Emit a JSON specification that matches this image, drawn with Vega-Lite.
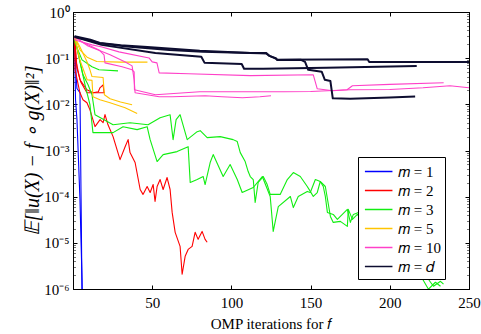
{
  "$schema": "https://vega.github.io/schema/vega-lite/v6.json",
  "width": 396,
  "height": 277,
  "autosize": "none",
  "padding": {"left": 73, "right": 12, "top": 12, "bottom": 45},
  "background": "white",
  "config": {
    "font": "Liberation Serif",
    "view": {"stroke": "black", "strokeWidth": 1},
    "axis": {"labelFont": "Liberation Serif", "titleFont": "Liberation Serif", "labelFontSize": 15, "titleFontSize": 15, "titleFontWeight": "normal", "labelColor": "black", "titleColor": "black", "domainColor": "black", "tickColor": "black", "grid": false, "labelFlush": false},
    "legend": {"labelFont": "Liberation Serif"}
  },
  "data": {"values": [
    {"m":"𝑚 = 1","r":"b1","x":1,"y":0.29},{"m":"𝑚 = 1","r":"b1","x":2,"y":0.04},{"m":"𝑚 = 1","r":"b1","x":2.5,"y":0.022},{"m":"𝑚 = 1","r":"b1","x":4.4,"y":0.0178},{"m":"𝑚 = 1","r":"b1","x":5.1,"y":0.000087},{"m":"𝑚 = 1","r":"b1","x":6,"y":0.00000006},
    {"m":"𝑚 = 1","r":"b2","x":1,"y":0.29},{"m":"𝑚 = 1","r":"b2","x":1.3,"y":0.05},{"m":"𝑚 = 1","r":"b2","x":1.6,"y":0.0126},{"m":"𝑚 = 1","r":"b2","x":2.5,"y":0.0047},{"m":"𝑚 = 1","r":"b2","x":4.4,"y":0.000087},{"m":"𝑚 = 1","r":"b2","x":5.7,"y":0.0000016},{"m":"𝑚 = 1","r":"b2","x":6,"y":0.0000004},
    {"m":"𝑚 = 2","r":"r1","x":1,"y":0.29},{"m":"𝑚 = 2","r":"r1","x":2,"y":0.083},{"m":"𝑚 = 2","r":"r1","x":4.4,"y":0.034},{"m":"𝑚 = 2","r":"r1","x":8.8,"y":0.0207},{"m":"𝑚 = 2","r":"r1","x":12.6,"y":0.0178},{"m":"𝑚 = 2","r":"r1","x":16,"y":0.0187},{"m":"𝑚 = 2","r":"r1","x":17,"y":0.0228},{"m":"𝑚 = 2","r":"r1","x":19,"y":0.0264},{"m":"𝑚 = 2","r":"r1","x":19.6,"y":0.0178},
    {"m":"𝑚 = 2","r":"r3","x":1,"y":0.29},{"m":"𝑚 = 2","r":"r3","x":2.5,"y":0.06},{"m":"𝑚 = 2","r":"r3","x":5,"y":0.03},{"m":"𝑚 = 2","r":"r3","x":8.8,"y":0.0178},{"m":"𝑚 = 2","r":"r3","x":20.2,"y":0.0178},
    {"m":"𝑚 = 2","r":"r2","x":1,"y":0.29},{"m":"𝑚 = 2","r":"r2","x":1.3,"y":0.056},{"m":"𝑚 = 2","r":"r2","x":4.4,"y":0.0178},{"m":"𝑚 = 2","r":"r2","x":6.3,"y":0.0126},{"m":"𝑚 = 2","r":"r2","x":8.8,"y":0.0108},{"m":"𝑚 = 2","r":"r2","x":10.7,"y":0.0076},{"m":"𝑚 = 2","r":"r2","x":13.9,"y":0.0033},{"m":"𝑚 = 2","r":"r2","x":17.1,"y":0.00465},{"m":"𝑚 = 2","r":"r2","x":19,"y":0.004},{"m":"𝑚 = 2","r":"r2","x":20.2,"y":0.006},{"m":"𝑚 = 2","r":"r2","x":22.1,"y":0.0036},{"m":"𝑚 = 2","r":"r2","x":25.3,"y":0.002},{"m":"𝑚 = 2","r":"r2","x":29.7,"y":0.000635},{"m":"𝑚 = 2","r":"r2","x":32.9,"y":0.00121},{"m":"𝑚 = 2","r":"r2","x":34.8,"y":0.00172},{"m":"𝑚 = 2","r":"r2","x":36,"y":0.0009},{"m":"𝑚 = 2","r":"r2","x":39.2,"y":0.00055},{"m":"𝑚 = 2","r":"r2","x":42.4,"y":0.000143},{"m":"𝑚 = 2","r":"r2","x":44.2,"y":0.000112},{"m":"𝑚 = 2","r":"r2","x":46.8,"y":0.000166},{"m":"𝑚 = 2","r":"r2","x":48.7,"y":0.000123},{"m":"𝑚 = 2","r":"r2","x":50.6,"y":0.000183},{"m":"𝑚 = 2","r":"r2","x":51.8,"y":0.000079},{"m":"𝑚 = 2","r":"r2","x":53.1,"y":0.000166},{"m":"𝑚 = 2","r":"r2","x":55,"y":0.000235},{"m":"𝑚 = 2","r":"r2","x":56.9,"y":0.000143},{"m":"𝑚 = 2","r":"r2","x":59.4,"y":0.00026},{"m":"𝑚 = 2","r":"r2","x":61.3,"y":0.000143},{"m":"𝑚 = 2","r":"r2","x":62.6,"y":0.0000456},{"m":"𝑚 = 2","r":"r2","x":64.5,"y":0.0000169},{"m":"𝑚 = 2","r":"r2","x":67.6,"y":0.0000084},{"m":"𝑚 = 2","r":"r2","x":68.9,"y":0.00000209},{"m":"𝑚 = 2","r":"r2","x":70.8,"y":0.0000051},{"m":"𝑚 = 2","r":"r2","x":72.7,"y":0.0000072},{"m":"𝑚 = 2","r":"r2","x":75.2,"y":0.0000084},{"m":"𝑚 = 2","r":"r2","x":77.1,"y":0.0000169},{"m":"𝑚 = 2","r":"r2","x":79,"y":0.0000119},{"m":"𝑚 = 2","r":"r2","x":81.5,"y":0.0000177},{"m":"𝑚 = 2","r":"r2","x":83.4,"y":0.0000119},{"m":"𝑚 = 2","r":"r2","x":84.7,"y":0.0000103},
    {"m":"𝑚 = 3","r":"g1","x":1,"y":0.29},{"m":"𝑚 = 3","r":"g1","x":1.3,"y":0.214},{"m":"𝑚 = 3","r":"g1","x":5.7,"y":0.092},{"m":"𝑚 = 3","r":"g1","x":12,"y":0.065},{"m":"𝑚 = 3","r":"g1","x":16.4,"y":0.056},{"m":"𝑚 = 3","r":"g1","x":28.4,"y":0.053},
    {"m":"𝑚 = 3","r":"g2","x":1,"y":0.29},{"m":"𝑚 = 3","r":"g2","x":3.2,"y":0.13},{"m":"𝑚 = 3","r":"g2","x":6.3,"y":0.0436},{"m":"𝑚 = 3","r":"g2","x":9.5,"y":0.0265},{"m":"𝑚 = 3","r":"g2","x":12,"y":0.0161},{"m":"𝑚 = 3","r":"g2","x":13.9,"y":0.00596},{"m":"𝑚 = 3","r":"g2","x":25.3,"y":0.00362},{"m":"𝑚 = 3","r":"g2","x":36,"y":0.004},{"m":"𝑚 = 3","r":"g2","x":47.4,"y":0.00362},{"m":"𝑚 = 3","r":"g2","x":55,"y":0.00514},{"m":"𝑚 = 3","r":"g2","x":61.3,"y":0.00596},{"m":"𝑚 = 3","r":"g2","x":63.2,"y":0.00172},{"m":"𝑚 = 3","r":"g2","x":65.1,"y":0.00465},{"m":"𝑚 = 3","r":"g2","x":67.6,"y":0.00596},{"m":"𝑚 = 3","r":"g2","x":72.1,"y":0.00172},{"m":"𝑚 = 3","r":"g2","x":78.4,"y":0.00256},{"m":"𝑚 = 3","r":"g2","x":80.3,"y":0.00269},{"m":"𝑚 = 3","r":"g2","x":84.7,"y":0.0019},{"m":"𝑚 = 3","r":"g2","x":92.9,"y":0.002},{"m":"𝑚 = 3","r":"g2","x":101.1,"y":0.00172},{"m":"𝑚 = 3","r":"g2","x":103.7,"y":0.00156},{"m":"𝑚 = 3","r":"g2","x":105.6,"y":0.0009},{"m":"𝑚 = 3","r":"g2","x":108.7,"y":0.000576},{"m":"𝑚 = 3","r":"g2","x":110.6,"y":0.00035},{"m":"𝑚 = 3","r":"g2","x":111.9,"y":0.000273},{"m":"𝑚 = 3","r":"g2","x":113.8,"y":0.000235},{"m":"𝑚 = 3","r":"g2","x":115,"y":0.000075},{"m":"𝑚 = 3","r":"g2","x":116.9,"y":0.000203},{"m":"𝑚 = 3","r":"g2","x":120.1,"y":0.000273},{"m":"𝑚 = 3","r":"g2","x":122.6,"y":0.000183},{"m":"𝑚 = 3","r":"g2","x":124.5,"y":0.000112},{"m":"𝑚 = 3","r":"g2","x":130.8,"y":0.000112},{"m":"𝑚 = 3","r":"g2","x":135.3,"y":0.000235},{"m":"𝑚 = 3","r":"g2","x":139.1,"y":0.000333},{"m":"𝑚 = 3","r":"g2","x":143.5,"y":0.000273},{"m":"𝑚 = 3","r":"g2","x":147.9,"y":0.000166},{"m":"𝑚 = 3","r":"g2","x":149.8,"y":0.00013},{"m":"𝑚 = 3","r":"g2","x":151.7,"y":0.000101},{"m":"𝑚 = 3","r":"g2","x":154.2,"y":0.000123},{"m":"𝑚 = 3","r":"g2","x":156.1,"y":0.000213},{"m":"𝑚 = 3","r":"g2","x":158,"y":0.000166},{"m":"𝑚 = 3","r":"g2","x":159.3,"y":0.000101},{"m":"𝑚 = 3","r":"g2","x":160.6,"y":0.0000456},{"m":"𝑚 = 3","r":"g2","x":164.3,"y":0.0000413},{"m":"𝑚 = 3","r":"g2","x":166.9,"y":0.0000322},{"m":"𝑚 = 3","r":"g2","x":173.2,"y":0.000053},{"m":"𝑚 = 3","r":"g2","x":175.1,"y":0.0000277},{"m":"𝑚 = 3","r":"g2","x":177,"y":0.0000413},{"m":"𝑚 = 3","r":"g2","x":180.2,"y":0.0000456},{"m":"𝑚 = 3","r":"g2","x":194,"y":0.0000177},{"m":"𝑚 = 3","r":"g2","x":206.7,"y":0.0000093},{"m":"𝑚 = 3","r":"g2","x":219.3,"y":0.00000296},{"m":"𝑚 = 3","r":"g2","x":225.7,"y":0.0000014},{"m":"𝑚 = 3","r":"g2","x":227.6,"y":0.00000115},{"m":"𝑚 = 3","r":"g2","x":232,"y":0.00000147},{"m":"𝑚 = 3","r":"g2","x":233.9,"y":0.00000127},
    {"m":"𝑚 = 3","r":"g3","x":1,"y":0.29},{"m":"𝑚 = 3","r":"g3","x":4.4,"y":0.083},{"m":"𝑚 = 3","r":"g3","x":7.6,"y":0.0265},{"m":"𝑚 = 3","r":"g3","x":10.7,"y":0.0098},{"m":"𝑚 = 3","r":"g3","x":12.6,"y":0.00244},{"m":"𝑚 = 3","r":"g3","x":25.3,"y":0.00244},{"m":"𝑚 = 3","r":"g3","x":31.6,"y":0.00328},{"m":"𝑚 = 3","r":"g3","x":40.5,"y":0.00283},{"m":"𝑚 = 3","r":"g3","x":46.8,"y":0.00328},{"m":"𝑚 = 3","r":"g3","x":48.7,"y":0.00172},{"m":"𝑚 = 3","r":"g3","x":53.1,"y":0.000576},{"m":"𝑚 = 3","r":"g3","x":56.9,"y":0.000815},{"m":"𝑚 = 3","r":"g3","x":65.7,"y":0.000946},{"m":"𝑚 = 3","r":"g3","x":72.7,"y":0.00121},{"m":"𝑚 = 3","r":"g3","x":74,"y":0.000203},{"m":"𝑚 = 3","r":"g3","x":78.4,"y":0.000235},{"m":"𝑚 = 3","r":"g3","x":82.2,"y":0.000273},{"m":"𝑚 = 3","r":"g3","x":83.4,"y":0.000183},{"m":"𝑚 = 3","r":"g3","x":86.6,"y":0.000548},{"m":"𝑚 = 3","r":"g3","x":88.5,"y":0.000815},{"m":"𝑚 = 3","r":"g3","x":94.8,"y":0.000273},{"m":"𝑚 = 3","r":"g3","x":99.2,"y":0.000496},{"m":"𝑚 = 3","r":"g3","x":103.7,"y":0.000235},{"m":"𝑚 = 3","r":"g3","x":106.8,"y":0.000123},{"m":"𝑚 = 3","r":"g3","x":113.8,"y":0.000158},{"m":"𝑚 = 3","r":"g3","x":119.5,"y":0.000273},{"m":"𝑚 = 3","r":"g3","x":124.5,"y":0.000101},{"m":"𝑚 = 3","r":"g3","x":126.4,"y":0.0000177},{"m":"𝑚 = 3","r":"g3","x":129.6,"y":0.000061},{"m":"𝑚 = 3","r":"g3","x":137.2,"y":0.000101},{"m":"𝑚 = 3","r":"g3","x":139.1,"y":0.000058},{"m":"𝑚 = 3","r":"g3","x":142.2,"y":0.000101},{"m":"𝑚 = 3","r":"g3","x":147.9,"y":0.00013},{"m":"𝑚 = 3","r":"g3","x":149.8,"y":0.000123},{"m":"𝑚 = 3","r":"g3","x":153,"y":0.000235},{"m":"𝑚 = 3","r":"g3","x":156.1,"y":0.000213},{"m":"𝑚 = 3","r":"g3","x":159.3,"y":0.000166},{"m":"𝑚 = 3","r":"g3","x":162.5,"y":0.0000373},{"m":"𝑚 = 3","r":"g3","x":164.3,"y":0.0000277},{"m":"𝑚 = 3","r":"g3","x":168.8,"y":0.0000291},{"m":"𝑚 = 3","r":"g3","x":173.2,"y":0.0000227},{"m":"𝑚 = 3","r":"g3","x":173.8,"y":0.000053},{"m":"𝑚 = 3","r":"g3","x":176.4,"y":0.0000322},{"m":"𝑚 = 3","r":"g3","x":179.5,"y":0.0000413},{"m":"𝑚 = 3","r":"g3","x":194,"y":0.0000108},{"m":"𝑚 = 3","r":"g3","x":206.7,"y":0.00000486},{"m":"𝑚 = 3","r":"g3","x":219.3,"y":0.00000199},{"m":"𝑚 = 3","r":"g3","x":224.4,"y":0.00000099},{"m":"𝑚 = 3","r":"g3","x":228.8,"y":0.0000014},{"m":"𝑚 = 3","r":"g3","x":232,"y":0.00000115},
    {"m":"𝑚 = 5","r":"y1","x":1,"y":0.29},{"m":"𝑚 = 5","r":"y1","x":4.4,"y":0.151},{"m":"𝑚 = 5","r":"y1","x":8.9,"y":0.105},{"m":"𝑚 = 5","r":"y1","x":15,"y":0.085},{"m":"𝑚 = 5","r":"y1","x":30,"y":0.082},{"m":"𝑚 = 5","r":"y1","x":47,"y":0.082},
    {"m":"𝑚 = 5","r":"y2","x":1,"y":0.29},{"m":"𝑚 = 5","r":"y2","x":4.4,"y":0.175},{"m":"𝑚 = 5","r":"y2","x":8.9,"y":0.083},{"m":"𝑚 = 5","r":"y2","x":10.7,"y":0.056},{"m":"𝑚 = 5","r":"y2","x":12,"y":0.04},{"m":"𝑚 = 5","r":"y2","x":19,"y":0.038},{"m":"𝑚 = 5","r":"y2","x":19.8,"y":0.0161},{"m":"𝑚 = 5","r":"y2","x":23.4,"y":0.0132},{"m":"𝑚 = 5","r":"y2","x":30,"y":0.0112},{"m":"𝑚 = 5","r":"y2","x":37.3,"y":0.0098},
    {"m":"𝑚 = 5","r":"y3","x":1,"y":0.29},{"m":"𝑚 = 5","r":"y3","x":4.4,"y":0.09},{"m":"𝑚 = 5","r":"y3","x":8.9,"y":0.034},{"m":"𝑚 = 5","r":"y3","x":12,"y":0.033},{"m":"𝑚 = 5","r":"y3","x":12.6,"y":0.0146},{"m":"𝑚 = 5","r":"y3","x":17,"y":0.0126},{"m":"𝑚 = 5","r":"y3","x":23.4,"y":0.0108},{"m":"𝑚 = 5","r":"y3","x":32.9,"y":0.0084},{"m":"𝑚 = 5","r":"y3","x":40.5,"y":0.0063},
    {"m":"𝑚 = 10","r":"p1","x":1,"y":0.29},{"m":"𝑚 = 10","r":"p1","x":1.3,"y":0.248},{"m":"𝑚 = 10","r":"p1","x":12,"y":0.194},{"m":"𝑚 = 10","r":"p1","x":18.3,"y":0.175},{"m":"𝑚 = 10","r":"p1","x":29,"y":0.137},{"m":"𝑚 = 10","r":"p1","x":48,"y":0.101},{"m":"𝑚 = 10","r":"p1","x":50,"y":0.083},{"m":"𝑚 = 10","r":"p1","x":53,"y":0.079},{"m":"𝑚 = 10","r":"p1","x":54.4,"y":0.048},{"m":"𝑚 = 10","r":"p1","x":73,"y":0.046},{"m":"𝑚 = 10","r":"p1","x":112,"y":0.0418},{"m":"𝑚 = 10","r":"p1","x":151.7,"y":0.0436},{"m":"𝑚 = 10","r":"p1","x":154.2,"y":0.0217},{"m":"𝑚 = 10","r":"p1","x":164,"y":0.0197},{"m":"𝑚 = 10","r":"p1","x":173,"y":0.0207},{"m":"𝑚 = 10","r":"p1","x":176.4,"y":0.0252},{"m":"𝑚 = 10","r":"p1","x":200,"y":0.027},{"m":"𝑚 = 10","r":"p1","x":234,"y":0.0293},
    {"m":"𝑚 = 10","r":"p2","x":1,"y":0.29},{"m":"𝑚 = 10","r":"p2","x":5.7,"y":0.225},{"m":"𝑚 = 10","r":"p2","x":16.4,"y":0.151},{"m":"𝑚 = 10","r":"p2","x":19.6,"y":0.118},{"m":"𝑚 = 10","r":"p2","x":20.2,"y":0.079},{"m":"𝑚 = 10","r":"p2","x":31,"y":0.065},{"m":"𝑚 = 10","r":"p2","x":37.3,"y":0.056},{"m":"𝑚 = 10","r":"p2","x":38.6,"y":0.0506},{"m":"𝑚 = 10","r":"p2","x":38.8,"y":0.0207},{"m":"𝑚 = 10","r":"p2","x":52,"y":0.0161},{"m":"𝑚 = 10","r":"p2","x":80,"y":0.0187},{"m":"𝑚 = 10","r":"p2","x":118,"y":0.0187},{"m":"𝑚 = 10","r":"p2","x":133,"y":0.0187},{"m":"𝑚 = 10","r":"p2","x":150,"y":0.019},{"m":"𝑚 = 10","r":"p2","x":175,"y":0.0207},{"m":"𝑚 = 10","r":"p2","x":200,"y":0.021},{"m":"𝑚 = 10","r":"p2","x":221,"y":0.0228},{"m":"𝑚 = 10","r":"p2","x":238,"y":0.0252},{"m":"𝑚 = 10","r":"p2","x":250,"y":0.0228},
    {"m":"𝑚 = 10","r":"p3","x":1,"y":0.29},{"m":"𝑚 = 10","r":"p3","x":9.5,"y":0.184},{"m":"𝑚 = 10","r":"p3","x":23.4,"y":0.118},{"m":"𝑚 = 10","r":"p3","x":33,"y":0.083},{"m":"𝑚 = 10","r":"p3","x":37.3,"y":0.068},{"m":"𝑚 = 10","r":"p3","x":38.6,"y":0.034},{"m":"𝑚 = 10","r":"p3","x":39.2,"y":0.0178},{"m":"𝑚 = 10","r":"p3","x":54.4,"y":0.0146},{"m":"𝑚 = 10","r":"p3","x":62.6,"y":0.0146},{"m":"𝑚 = 10","r":"p3","x":83.4,"y":0.0153},{"m":"𝑚 = 10","r":"p3","x":94,"y":0.0146},{"m":"𝑚 = 10","r":"p3","x":107,"y":0.0139},{"m":"𝑚 = 10","r":"p3","x":118,"y":0.0146},{"m":"𝑚 = 10","r":"p3","x":125,"y":0.0153},
    {"m":"𝑚 = 𝑑","r":"d1","x":1,"y":0.3},{"m":"𝑚 = 𝑑","r":"d1","x":11,"y":0.25},{"m":"𝑚 = 𝑑","r":"d1","x":17,"y":0.214},{"m":"𝑚 = 𝑑","r":"d1","x":30,"y":0.19},{"m":"𝑚 = 𝑑","r":"d1","x":47,"y":0.175},{"m":"𝑚 = 𝑑","r":"d1","x":80,"y":0.144},{"m":"𝑚 = 𝑑","r":"d1","x":112,"y":0.13},{"m":"𝑚 = 𝑑","r":"d1","x":122,"y":0.13},{"m":"𝑚 = 𝑑","r":"d1","x":124,"y":0.112},{"m":"𝑚 = 𝑑","r":"d1","x":128,"y":0.1},{"m":"𝑚 = 𝑑","r":"d1","x":129,"y":0.092},{"m":"𝑚 = 𝑑","r":"d1","x":186,"y":0.095},{"m":"𝑚 = 𝑑","r":"d1","x":187,"y":0.083},{"m":"𝑚 = 𝑑","r":"d1","x":250,"y":0.083},
    {"m":"𝑚 = 𝑑","r":"d2","x":1,"y":0.29},{"m":"𝑚 = 𝑑","r":"d2","x":17,"y":0.21},{"m":"𝑚 = 𝑑","r":"d2","x":34,"y":0.18},{"m":"𝑚 = 𝑑","r":"d2","x":61,"y":0.151},{"m":"𝑚 = 𝑑","r":"d2","x":82,"y":0.137},{"m":"𝑚 = 𝑑","r":"d2","x":118,"y":0.128},{"m":"𝑚 = 𝑑","r":"d2","x":122,"y":0.126},{"m":"𝑚 = 𝑑","r":"d2","x":124,"y":0.112},{"m":"𝑚 = 𝑑","r":"d2","x":128,"y":0.098},{"m":"𝑚 = 𝑑","r":"d2","x":129,"y":0.091},{"m":"𝑚 = 𝑑","r":"d2","x":144,"y":0.092},{"m":"𝑚 = 𝑑","r":"d2","x":146.5,"y":0.083},{"m":"𝑚 = 𝑑","r":"d2","x":148.5,"y":0.056},{"m":"𝑚 = 𝑑","r":"d2","x":157,"y":0.051},{"m":"𝑚 = 𝑑","r":"d2","x":159,"y":0.034},{"m":"𝑚 = 𝑑","r":"d2","x":162.5,"y":0.032},{"m":"𝑚 = 𝑑","r":"d2","x":164,"y":0.0135},{"m":"𝑚 = 𝑑","r":"d2","x":175,"y":0.0132},{"m":"𝑚 = 𝑑","r":"d2","x":200,"y":0.014},{"m":"𝑚 = 𝑑","r":"d2","x":216,"y":0.0148},
    {"m":"𝑚 = 𝑑","r":"d3","x":1,"y":0.29},{"m":"𝑚 = 𝑑","r":"d3","x":18,"y":0.194},{"m":"𝑚 = 𝑑","r":"d3","x":52,"y":0.13},{"m":"𝑚 = 𝑑","r":"d3","x":81,"y":0.107},{"m":"𝑚 = 𝑑","r":"d3","x":83,"y":0.08},{"m":"𝑚 = 𝑑","r":"d3","x":106.5,"y":0.075},{"m":"𝑚 = 𝑑","r":"d3","x":108,"y":0.059},{"m":"𝑚 = 𝑑","r":"d3","x":120,"y":0.059},{"m":"𝑚 = 𝑑","r":"d3","x":160,"y":0.062},{"m":"𝑚 = 𝑑","r":"d3","x":217,"y":0.068}
  ]},
  "layer": [
    {
      "mark": {"type": "line", "clip": true, "strokeJoin": "round"},
      "encoding": {
        "x": {"field": "x", "type": "quantitative", "scale": {"domain": [0, 250], "nice": false, "zero": false},
              "axis": {"orient": "bottom", "values": [50, 100, 150, 200, 250], "tickSize": -4, "labelPadding": 10, "title": "OMP iterations for 𝑓", "titlePadding": 6}},
        "y": {"field": "y", "type": "quantitative", "scale": {"type": "log", "domain": [0.000001, 1], "nice": false},
              "axis": {"orient": "left", "title": "𝔼[‖u(X)  −  f  ∘  g(X)‖²]", "titleFontStyle": "italic", "titleFontSize": 20, "titlePadding": 1, "labelPadding": 8,
                "values": [0.000001,0.000002,0.000003,0.000004,0.000005,0.000006,0.000007,0.000008,0.000009,0.00001,0.00002,0.00003,0.00004,0.00005,0.00006,0.00007,0.00008,0.00009,0.0001,0.0002,0.0003,0.0004,0.0005,0.0006,0.0007,0.0008,0.0009,0.001,0.002,0.003,0.004,0.005,0.006,0.007,0.008,0.009,0.01,0.02,0.03,0.04,0.05,0.06,0.07,0.08,0.09,0.1,0.2,0.3,0.4,0.5,0.6,0.7,0.8,0.9,1],
                "labelExpr": "abs(log(datum.value)/LN10 - round(log(datum.value)/LN10)) < 0.01 ? '10' + ['⁻⁶','⁻⁵','⁻⁴','⁻³','⁻²','⁻¹','⁰'][round(log(datum.value)/LN10) + 6] : ''",
                "tickSize": {"condition": {"test": "abs(log(datum.value)/LN10 - round(log(datum.value)/LN10)) < 0.01", "value": -4}, "value": -2.5},
                "tickColor": {"condition": {"test": "abs(log(datum.value)/LN10 - round(log(datum.value)/LN10)) < 0.01", "value": "black"}, "value": "#777777"}}},
        "detail": {"field": "r", "type": "nominal"},
        "color": {"field": "m", "type": "nominal",
                  "scale": {"domain": ["𝑚 = 1", "𝑚 = 2", "𝑚 = 3", "𝑚 = 5", "𝑚 = 10", "𝑚 = 𝑑"], "range": ["#0000ff", "#ff0000", "#11ee11", "#ffc400", "#ff40c8", "#0d0d30"]},
                  "legend": {"orient": "none", "legendX": 285, "legendY": 145, "title": null, "fillColor": "white", "strokeColor": "black", "padding": 4, "symbolType": "M-0.8,0H2.1", "symbolSize": 361, "symbolStrokeWidth": 1.5, "labelFontSize": 15, "labelOffset": 15, "rowPadding": 0, "labelFont": "Liberation Serif", "labelColor": "black"}},
        "strokeWidth": {"condition": {"test": "datum.m === '𝑚 = 𝑑'", "value": 2}, "value": 1.1},
        "order": {"field": "x", "type": "quantitative"}
      }
    },
    {
      "mark": {"type": "point", "opacity": 0},
      "encoding": {
        "x": {"field": "x", "type": "quantitative", "scale": {"domain": [0, 250], "nice": false, "zero": false},
              "axis": {"orient": "top", "values": [50, 100, 150, 200, 250], "tickSize": -4, "labels": false, "title": null}},
        "y": {"field": "y", "type": "quantitative", "scale": {"type": "log", "domain": [0.000001, 1], "nice": false},
              "axis": {"orient": "right", "labels": false, "title": null,
                "values": [0.000001,0.000002,0.000003,0.000004,0.000005,0.000006,0.000007,0.000008,0.000009,0.00001,0.00002,0.00003,0.00004,0.00005,0.00006,0.00007,0.00008,0.00009,0.0001,0.0002,0.0003,0.0004,0.0005,0.0006,0.0007,0.0008,0.0009,0.001,0.002,0.003,0.004,0.005,0.006,0.007,0.008,0.009,0.01,0.02,0.03,0.04,0.05,0.06,0.07,0.08,0.09,0.1,0.2,0.3,0.4,0.5,0.6,0.7,0.8,0.9,1],
                "tickSize": {"condition": {"test": "abs(log(datum.value)/LN10 - round(log(datum.value)/LN10)) < 0.01", "value": -4}, "value": -2.5},
                "tickColor": {"condition": {"test": "abs(log(datum.value)/LN10 - round(log(datum.value)/LN10)) < 0.01", "value": "black"}, "value": "#777777"}}}
      }
    }
  ],
  "resolve": {"axis": {"x": "independent", "y": "independent"}}
}
